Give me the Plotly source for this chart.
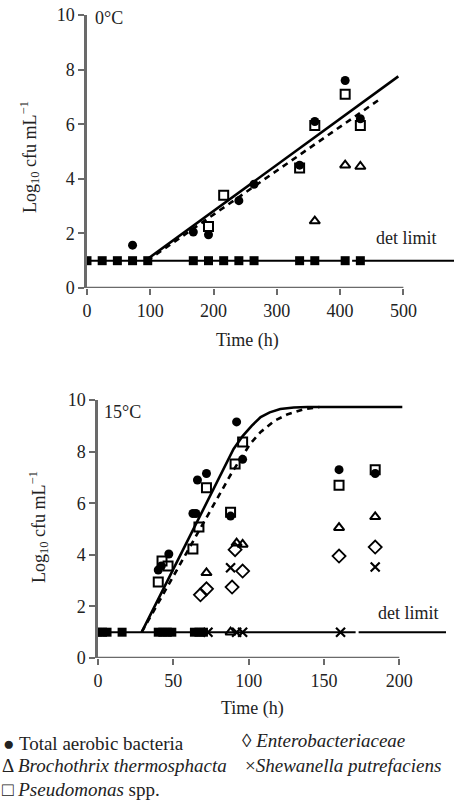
import plotly.graph_objects as go

# ---- 0 °C panel ----
det_t0 = [0, 24, 48, 72, 96, 168, 192, 216, 240, 264, 336, 360, 408, 432]
total_t0 = [72, 168, 192, 240, 264, 336, 360, 408, 432]
total_y0 = [1.57, 2.05, 1.95, 3.2, 3.8, 4.5, 6.1, 7.6, 6.2]
pseudo_t0 = [192, 216, 336, 360, 408, 432]
pseudo_y0 = [2.25, 3.4, 4.4, 5.95, 7.1, 5.95]
broch_t0 = [360, 408, 432]
broch_y0 = [2.45, 4.5, 4.45]
fit_t0 = [92, 492]
fit_y0 = [1.0, 7.75]
fitd_t0 = [95, 465]
fitd_y0 = [1.0, 6.95]
limit_t0 = [0, 414, None, 419, 580]

# ---- 15 °C panel ----
det_t15 = [0, 3, 6, 16, 40, 43, 46, 49, 64, 67, 70]
total_t15 = [40, 42, 47, 63, 65, 66, 72, 88, 92, 96, 160, 184]
total_y15 = [3.41, 3.57, 4.03, 5.6, 5.6, 6.9, 7.15, 5.5, 9.15, 7.7, 7.3, 7.15]
pseudo_t15 = [40, 42.5, 46.5, 63, 67, 72, 88, 91, 96, 160, 184]
pseudo_y15 = [2.95, 3.76, 3.57, 4.22, 5.08, 6.6, 5.65, 7.52, 8.37, 6.7, 7.3]
broch_t15 = [72, 88, 92, 96, 160, 184]
broch_y15 = [3.3, 1.0, 4.45, 4.4, 5.05, 5.47]
entero_t15 = [68, 72, 89, 91, 96, 160, 184]
entero_y15 = [2.45, 2.68, 2.75, 4.2, 3.37, 3.95, 4.3]
shew_t15 = [73, 88, 92, 96, 161, 184]
shew_y15 = [1.0, 3.5, 1.0, 1.0, 1.0, 3.53]
fit_t15 = [29, 84, 90, 96, 102, 108, 114, 121, 130, 139, 202]
fit_y15 = [1.0, 7.4, 8.1, 8.6, 9.0, 9.34, 9.52, 9.65, 9.71, 9.73, 9.73]
fitd_t15 = [29, 83, 89, 95, 101, 108, 117, 126, 137, 147]
fitd_y15 = [1.0, 6.55, 7.2, 7.75, 8.3, 8.76, 9.19, 9.45, 9.65, 9.73]
limit_t15 = [0, 171, None, 173, 231]

FONT = "Liberation Serif, Times New Roman, serif"
AX = "#6a6a6a"
W, H = 459, 803


def px(x):
    return x / W


def py(y):
    return 1 - y / H


fig = go.Figure()


def add_panel(sfx, det_t, total_t, total_y, pseudo_t, pseudo_y, broch_t, broch_y,
              entero_t, entero_y, shew_t, shew_y, fit_t, fit_y, fitd_t, fitd_y, limit_t):
    xa, ya = "x" + sfx, "y" + sfx
    # detection limit line
    fig.add_trace(go.Scatter(x=limit_t, y=[1] * len(limit_t), mode="lines",
                             line=dict(color="black", width=2), xaxis=xa, yaxis=ya))
    # model fits
    fig.add_trace(go.Scatter(x=fit_t, y=fit_y, mode="lines", line=dict(color="black", width=2.6),
                             xaxis=xa, yaxis=ya))
    fig.add_trace(go.Scatter(x=fitd_t, y=fitd_y, mode="lines",
                             line=dict(color="black", width=2.6, dash="6px,5px"),
                             xaxis=xa, yaxis=ya))
    # points below detection limit (overlapping symbols)
    fig.add_trace(go.Scatter(x=det_t, y=[1] * len(det_t), mode="markers",
                             marker=dict(symbol="square", size=9, color="black"),
                             xaxis=xa, yaxis=ya))
    fig.add_trace(go.Scatter(x=broch_t, y=broch_y, mode="markers",
                             marker=dict(symbol="triangle-up-open", size=9, color="black",
                                         line=dict(width=2)), xaxis=xa, yaxis=ya))
    if entero_t:
        fig.add_trace(go.Scatter(x=entero_t, y=entero_y, mode="markers",
                                 marker=dict(symbol="diamond-open", size=10, color="black",
                                             line=dict(width=1.8)), xaxis=xa, yaxis=ya))
    if shew_t:
        fig.add_trace(go.Scatter(x=shew_t, y=shew_y, mode="markers",
                                 marker=dict(symbol="x-thin", size=9, color="black",
                                             line=dict(width=2.2, color="black")),
                                 xaxis=xa, yaxis=ya))
    fig.add_trace(go.Scatter(x=pseudo_t, y=pseudo_y, mode="markers",
                             marker=dict(symbol="square-open", size=9, color="black",
                                         line=dict(width=2)), xaxis=xa, yaxis=ya))
    fig.add_trace(go.Scatter(x=total_t, y=total_y, mode="markers",
                             marker=dict(symbol="circle", size=9, color="black"),
                             xaxis=xa, yaxis=ya))


add_panel("", det_t0, total_t0, total_y0, pseudo_t0, pseudo_y0, broch_t0, broch_y0,
          [], [], [], [], fit_t0, fit_y0, fitd_t0, fitd_y0, limit_t0)
add_panel("2", det_t15, total_t15, total_y15, pseudo_t15, pseudo_y15, broch_t15, broch_y15,
          entero_t15, entero_y15, shew_t15, shew_y15, fit_t15, fit_y15, fitd_t15, fitd_y15,
          limit_t15)

xcommon = dict(showgrid=False, zeroline=False, showline=False, automargin=False,
               ticks="outside", ticklen=6, tickwidth=2, tickcolor=AX,
               tickfont=dict(family=FONT, size=18, color="#222"))
ycommon = dict(showgrid=False, zeroline=False, showline=True, linecolor=AX, linewidth=2.5,
               automargin=False, ticks="outside", ticklen=6, tickwidth=2, tickcolor=AX,
               tickvals=[0, 2, 4, 6, 8, 10], range=[0, 10],
               tickfont=dict(family=FONT, size=18, color="#222"))

fig.update_layout(
    width=W, height=H, showlegend=False,
    margin=dict(l=0, r=0, t=0, b=0, pad=0),
    paper_bgcolor="white", plot_bgcolor="white",
    font=dict(family=FONT, size=18, color="#222"),
    xaxis=dict(xcommon, domain=[px(87), px(454)], range=[0, 580],
               tickvals=[0, 100, 200, 300, 400, 500], anchor="y"),
    yaxis=dict(ycommon, domain=[py(288), py(15)], anchor="x"),
    xaxis2=dict(xcommon, domain=[px(98), px(446)], range=[0, 231],
                tickvals=[0, 50, 100, 150, 200], anchor="y2"),
    yaxis2=dict(ycommon, domain=[py(658), py(400)], anchor="x2"),
)

# x axis lines stop at the last tick
fig.add_shape(type="line", xref="x", yref="y", x0=0, x1=500, y0=0, y1=0,
              line=dict(color=AX, width=2.5))
fig.add_shape(type="line", xref="x2", yref="y2", x0=0, x1=200, y0=0, y1=0,
              line=dict(color=AX, width=2.5))


def note(text, x, y, size=18, xanchor="left", angle=0, xref="paper", yref="paper"):
    fig.add_annotation(text=text, x=x, y=y, xref=xref, yref=yref, showarrow=False,
                       xanchor=xanchor, yanchor="middle", textangle=angle,
                       font=dict(family=FONT, size=size, color="#222"))


note("0°C", 10, 9.9, xref="x", yref="y")
note("15°C", 2.5, 9.55, xref="x2", yref="y2")
note("det limit", 505, 1.83, xanchor="center", xref="x", yref="y")
note("det limit", 206, 1.74, xanchor="center", xref="x2", yref="y2")

note("Time (h)", px(247), py(340), xanchor="center")
note("Time (h)", px(252), py(708), xanchor="center")
note("Log<sub>10</sub> cfu mL<sup>−1</sup>", px(29), py(157), xanchor="center", angle=-90)
note("Log<sub>10</sub> cfu mL<sup>−1</sup>", px(38), py(527), xanchor="center", angle=-90)

# legend written as text lines below the lower panel
note("● Total aerobic bacteria", px(1), py(743), size=19)
note("◊ <i>Enterobacteriaceae</i>", px(240), py(740), size=19)
note("Δ <i>Brochothrix thermosphacta</i>", px(0), py(765), size=19)
note("×<i>Shewanella putrefaciens</i>", px(243), py(765), size=19)
note("□ <i>Pseudomonas</i> spp.", px(0), py(789), size=19)

# page body margin removed so the figure sits at the window origin
fig.write_html("out.html", config={"displayModeBar": False},
               post_script="document.body.style.margin = '0px';")
